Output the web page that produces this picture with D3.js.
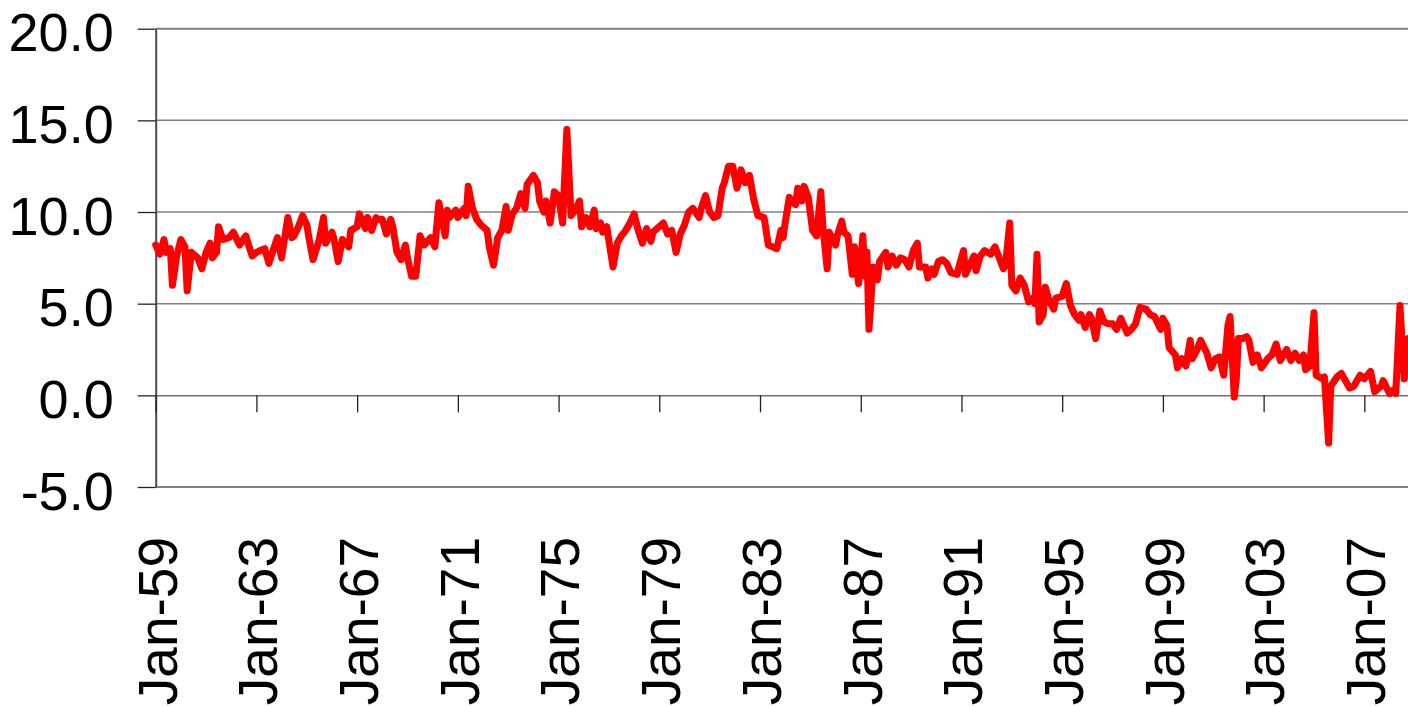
<!DOCTYPE html>
<html lang="en">
<head>
<meta charset="utf-8">
<title>Monthly rate 1959-2008</title>
<script src="https://cdn.jsdelivr.net/npm/d3@7"></script>
<style>
  body { margin: 0; background: #fff; }
  svg { display: block; font-family: "Liberation Sans", Arial, sans-serif; }
</style>
</head>
<body>
<svg id="chart" width="1408" height="707"></svg>
<script>
// dates (year-month) and the value at each
var months = [
  "1959-01","1959-03","1959-05","1959-06","1959-08","1959-09","1959-11","1960-01","1960-03","1960-04",
  "1960-06","1960-09","1960-11","1961-01","1961-03","1961-04","1961-06","1961-07","1961-09","1961-12",
  "1962-02","1962-05","1962-08","1962-09","1962-11","1963-01","1963-03","1963-05","1963-07","1963-11",
  "1964-01","1964-04","1964-06","1964-07","1964-09","1964-11","1965-01","1965-02","1965-04","1965-07",
  "1965-09","1965-10","1966-01","1966-02","1966-04","1966-06","1966-09","1966-10","1967-01","1967-02",
  "1967-05","1967-06","1967-08","1967-10","1967-11","1968-01","1968-03","1968-05","1968-06","1968-08",
  "1968-10","1968-12","1969-01","1969-03","1969-05","1969-07","1969-09","1969-12","1970-02","1970-04",
  "1970-07","1970-08","1970-09","1970-12","1971-01","1971-04","1971-05","1971-06","1971-08","1971-10",
  "1971-12","1972-03","1972-04","1972-06","1972-08","1972-10","1972-12","1973-01","1973-03","1973-05",
  "1973-07","1973-09","1973-10","1974-01","1974-03","1974-04","1974-06","1974-07","1974-09","1974-11",
  "1975-01","1975-03","1975-05","1975-07","1975-09","1975-11","1975-12","1976-02","1976-04","1976-06",
  "1976-07","1976-09","1976-10","1976-12","1977-01","1977-03","1977-05","1977-07","1977-09","1977-11",
  "1978-01","1978-03","1978-05","1978-07","1978-09","1978-10","1979-01","1979-03","1979-05","1979-07",
  "1979-09","1979-11","1980-01","1980-03","1980-05","1980-08","1980-09","1980-11","1981-01","1981-03",
  "1981-05","1981-07","1981-08","1981-10","1981-12","1982-02","1982-03","1982-04","1982-06","1982-08",
  "1982-10","1982-12","1983-03","1983-05","1983-07","1983-09","1983-11","1983-12","1984-01","1984-03",
  "1984-04","1984-06","1984-07","1984-09","1984-10","1984-12","1985-02","1985-04","1985-06","1985-07",
  "1985-09","1985-10","1986-01","1986-02","1986-04","1986-05","1986-07","1986-09","1986-10","1986-12",
  "1987-02","1987-03","1987-04","1987-05","1987-07","1987-09","1987-10","1988-01","1988-02","1988-04",
  "1988-06","1988-08","1988-10","1988-12","1989-02","1989-04","1989-05","1989-08","1989-09","1989-11",
  "1989-12","1990-02","1990-04","1990-06","1990-08","1990-11","1990-12","1991-02","1991-03","1991-05",
  "1991-07","1991-08","1991-10","1991-12","1992-03","1992-05","1992-07","1992-09","1992-10","1992-12",
  "1993-01","1993-03","1993-05","1993-07","1993-09","1993-11","1993-12","1994-01","1994-02","1994-04",
  "1994-05","1994-07","1994-09","1994-10","1995-01","1995-03","1995-05","1995-07","1995-09","1995-10",
  "1995-12","1996-02","1996-03","1996-05","1996-07","1996-09","1996-11","1997-01","1997-03","1997-05",
  "1997-08","1997-10","1997-12","1998-02","1998-05","1998-07","1998-09","1998-12","1999-01","1999-03",
  "1999-04","1999-07","1999-08","1999-10","1999-12","2000-02","2000-03","2000-05","2000-07","2000-10",
  "2000-12","2001-02","2001-04","2001-06","2001-08","2001-09","2001-11","2001-12","2002-01","2002-03",
  "2002-05","2002-06","2002-08","2002-10","2002-12","2003-03","2003-05","2003-07","2003-09","2003-12",
  "2004-02","2004-04","2004-06","2004-08","2004-09","2004-11","2005-01","2005-02","2005-05","2005-06",
  "2005-08","2005-09","2005-12","2006-02","2006-04","2006-06","2006-08","2006-11","2007-01","2007-04",
  "2007-06","2007-09","2007-10","2008-01","2008-03","2008-04","2008-06","2008-08","2008-10"
];
var values = [
  8.2, 7.7, 8.5, 7.8, 8.0, 6.0, 7.6, 8.5, 8.1, 5.7,
  7.8, 7.5, 6.9, 7.8, 8.3, 7.5, 7.8, 9.2, 8.5, 8.6,
  8.9, 8.2, 8.7, 8.3, 7.6, 7.8, 7.9, 8.0, 7.2, 8.6,
  7.5, 9.7, 8.6, 8.7, 9.2, 9.8, 9.3, 8.6, 7.4, 8.5,
  9.7, 8.3, 8.9, 8.5, 7.3, 8.5, 8.1, 9.0, 9.2, 9.9,
  9.1, 9.7, 9.0, 9.7, 9.6, 9.6, 8.8, 9.6, 9.2, 7.8,
  7.4, 8.2, 7.5, 6.5, 6.5, 8.7, 8.2, 8.6, 8.1, 10.5,
  8.7, 10.1, 9.7, 10.1, 9.7, 10.2, 9.8, 11.4, 10.2, 9.6,
  9.3, 9.0, 8.1, 7.1, 8.6, 9.0, 10.3, 9.0, 9.9, 10.2,
  11.0, 10.2, 11.5, 12.0, 11.6, 10.6, 10.0, 10.6, 9.4, 11.1,
  10.9, 9.4, 14.5, 9.8, 10.1, 10.6, 9.2, 9.7, 9.2, 10.1,
  9.1, 9.4, 8.9, 9.2, 8.4, 7.0, 8.3, 8.7, 9.0, 9.4,
  9.9, 9.0, 8.3, 9.1, 8.4, 8.9, 9.2, 9.4, 8.8, 9.0,
  7.8, 8.8, 9.3, 10.0, 10.2, 9.7, 10.2, 10.9, 10.0, 9.7,
  9.8, 11.3, 11.6, 12.5, 12.5, 11.3, 11.7, 12.3, 11.6, 12.0,
  10.7, 9.8, 9.7, 8.2, 8.1, 8.0, 9.0, 8.6, 9.4, 10.8,
  10.6, 10.4, 11.3, 10.6, 11.4, 10.8, 9.0, 8.7, 11.1, 9.2,
  6.9, 8.9, 8.2, 8.8, 9.5, 8.9, 8.7, 6.6, 8.1, 6.1,
  8.7, 6.5, 7.8, 3.6, 7.0, 6.3, 7.3, 7.8, 7.0, 7.6,
  7.1, 7.5, 7.4, 7.0, 7.9, 8.3, 7.0, 7.0, 6.4, 6.9,
  6.6, 7.3, 7.4, 7.2, 6.7, 6.6, 7.1, 7.9, 6.6, 7.1,
  7.6, 6.8, 7.6, 7.9, 7.7, 8.1, 7.5, 6.9, 7.1, 9.4,
  6.0, 5.7, 6.4, 6.0, 5.1, 5.3, 5.0, 7.7, 4.0, 4.4,
  5.9, 5.1, 4.7, 5.3, 5.4, 6.1, 4.9, 4.4, 4.1, 4.4,
  3.7, 4.4, 4.2, 3.1, 4.6, 4.0, 3.9, 3.9, 3.6, 4.2,
  3.4, 3.6, 3.9, 4.8, 4.7, 4.4, 4.3, 3.6, 4.2, 3.8,
  2.6, 2.2, 1.5, 2.0, 1.6, 3.0, 2.0, 2.4, 3.0, 2.3,
  1.5, 2.0, 2.1, 1.1, 3.8, 4.3, -0.1, 0.9, 3.1, 3.1,
  3.2, 3.0, 1.8, 2.2, 1.5, 2.0, 2.2, 2.8, 1.9, 2.5,
  1.9, 2.3, 1.9, 2.2, 1.4, 1.6, 4.5, 1.1, 0.9, 1.0,
  -2.6, 0.5, 1.0, 1.2, 0.8, 0.4, 0.5, 1.1, 0.9, 1.3,
  0.2, 0.5, 0.8, 0.1, 0.3, 0.1, 4.9, 0.9, 3.1
];
var yTicks = [-5, 0, 5, 10, 15, 20];
var xTickYears = [1959, 1963, 1967, 1971, 1975, 1979, 1983, 1987, 1991, 1995, 1999, 2003, 2007];

var svg = d3.select("#chart");
var parseMonth = d3.timeParse("%Y-%m");
var data = months.map(function (m, i) { return { date: parseMonth(m), value: values[i] }; });

var plotLeft = 155.7, plotTop = 28.7, plotBottom = 487;
var pxPerYear = 25.18;
var x = d3.scaleTime()
    .domain([new Date(1959, 0, 1), new Date(2011, 0, 1)])
    .range([plotLeft, plotLeft + 52 * pxPerYear]);
var y = d3.scaleLinear().domain([-5, 20]).range([plotBottom, plotTop]);
var plotRight = x.range()[1];

// horizontal gridlines + plot border (top/bottom are the border, a bit heavier)
svg.append("g").selectAll("line")
    .data(yTicks.filter(function (d) { return d !== 0; }))
    .enter().append("line")
    .attr("x1", plotLeft).attr("x2", plotRight)
    .attr("y1", function (d) { return y(d); })
    .attr("y2", function (d) { return y(d); })
    .attr("stroke", "#808080")
    .attr("stroke-width", function (d) { return (d === -5 || d === 20) ? 2 : 1.5; });

// y axis
var yAxis = svg.append("g")
    .attr("transform", "translate(" + plotLeft + ",0)")
    .call(d3.axisLeft(y).tickValues(yTicks).tickSize(18).tickSizeOuter(0).tickPadding(24)
        .tickFormat(function (d) { return d.toFixed(1); }));
yAxis.select(".domain").attr("stroke", "#4a4a4a").attr("stroke-width", 2);
yAxis.selectAll(".tick line").attr("stroke", "#222").attr("stroke-width", 1.3);
yAxis.selectAll("text")
    .attr("font-size", "54px")
    .attr("font-family", "'Liberation Sans', Arial, sans-serif")
    .attr("fill", "#000")
    .attr("dy", "0.41em");

// x axis sits on zero
var tickDates = xTickYears.map(function (yr) { return new Date(yr, 0, 1); });
var xAxis = svg.append("g")
    .attr("transform", "translate(0," + y(0) + ")")
    .call(d3.axisBottom(x).tickValues(tickDates).tickSize(17).tickSizeOuter(0).tickFormat(""));
xAxis.select(".domain").attr("stroke", "#707070").attr("stroke-width", 1.5);
xAxis.selectAll(".tick line").attr("stroke", "#222").attr("stroke-width", 1.3);

// rotated date labels under the plot
var fmt = d3.timeFormat("%b-%y");
svg.append("g").selectAll("text")
    .data(tickDates)
    .enter().append("text")
    .attr("transform", function (d) { return "translate(" + (x(d) + 1) + ",537) rotate(-90)"; })
    .attr("text-anchor", "end")
    .attr("dy", "0.36em")
    .attr("font-size", "55px")
    .attr("fill", "#000")
    .text(function (d) { return fmt(d); });

// the series
svg.append("path")
    .datum(data)
    .attr("fill", "none")
    .attr("stroke", "#ff0000")
    .attr("stroke-width", 7)
    .attr("stroke-linejoin", "round")
    .attr("stroke-linecap", "round")
    .attr("d", d3.line()
        .x(function (d) { return x(d.date); })
        .y(function (d) { return y(d.value); }));
</script>
</body>
</html>
